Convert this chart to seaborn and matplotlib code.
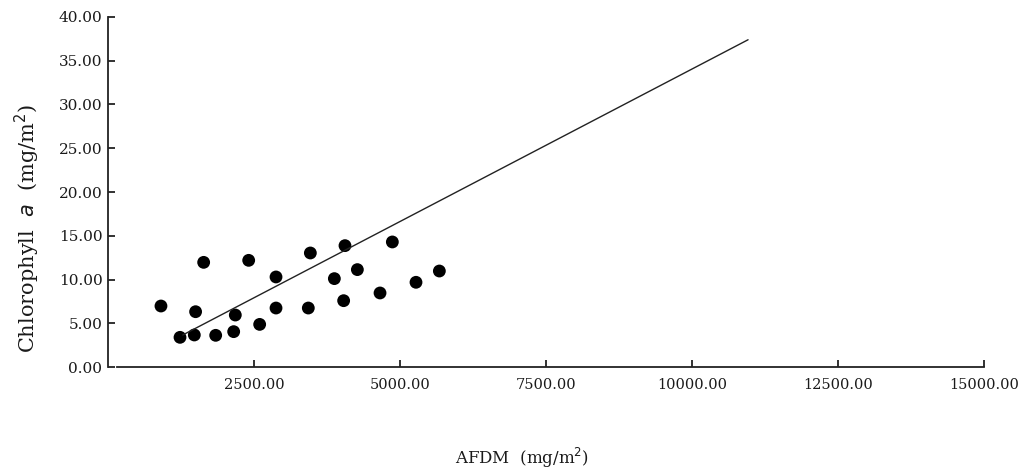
import numpy as np
import pandas as pd
import matplotlib
matplotlib.use("Agg")
import matplotlib.pyplot as plt
import seaborn as sns

# AFDM (mg/m2) and chlorophyll a (mg/m2)
afdm = [907, 1233, 1478, 1500, 1638, 1844, 2152, 2180, 2409, 2597, 2877,
        2877, 3430, 3465, 3876, 4035, 4058, 4270, 4658, 4869, 5274, 5674]
chla = [6.97, 3.39, 3.66, 6.32, 11.96, 3.62, 4.04, 5.94, 12.19, 4.87, 10.29,
        6.74, 6.74, 13.03, 10.10, 7.58, 13.87, 11.13, 8.46, 14.29, 9.68, 10.97]

# fitted line end points
line_x = [1280, 10960]
line_y = [3.66, 37.4]

x_ticks = [2500, 5000, 7500, 10000, 12500, 15000]
y_ticks = [0, 5, 10, 15, 20, 25, 30, 35, 40]

df = pd.DataFrame({"afdm": afdm, "chla": chla})
line_df = pd.DataFrame({"x": line_x, "y": line_y})

sns.set_theme(style="ticks")
plt.rcParams["font.family"] = ["DejaVu Serif"]

fig = plt.figure(figsize=(10.18, 4.73), dpi=100)
ax = fig.add_axes([108 / 1018, 1 - 367 / 473, (984 - 108) / 1018, (367 - 17) / 473])

sns.lineplot(data=line_df, x="x", y="y", ax=ax, color="#222222", linewidth=1.0)
sns.scatterplot(data=df, x="afdm", y="chla", ax=ax, color="black", s=85,
                edgecolor="none")

ax.set_xlim(0, 15000)
ax.set_ylim(0, 40)
ax.set_xticks(x_ticks)
ax.set_yticks(y_ticks)
ax.set_xticklabels([f"{v:.2f}" for v in x_ticks])
ax.set_yticklabels([f"{v:.2f}" for v in y_ticks])

for s in ["top", "right"]:
    ax.spines[s].set_visible(False)
ax.spines["bottom"].set_bounds(150, 15000)
ax.spines["left"].set_bounds(0, 40)
for s in ["bottom", "left"]:
    ax.spines[s].set_color("#222222")
    ax.spines[s].set_linewidth(1.3)

ax.tick_params(axis="both", direction="in", length=5, width=1.3,
               color="#222222", labelsize=10.5, labelcolor="#1a1a1a")
ax.tick_params(axis="y", labelsize=11)
ax.tick_params(axis="x", pad=8)
ax.tick_params(axis="y", pad=4)

ax.set_xlabel("AFDM  (mg/m$^2$)", fontsize=12, color="#1a1a1a")
ax.set_ylabel("Chlorophyll  $\\it{a}$  (mg/m$^2$)", fontsize=15,
              color="#1a1a1a")
ax.xaxis.set_label_coords((522 - 108) / (984 - 108), -(446 - 367) / 350)
ax.yaxis.set_label_coords(-(108 - 42) / 876, (367 - 228) / 350)

fig.savefig("out.png", dpi=100)
